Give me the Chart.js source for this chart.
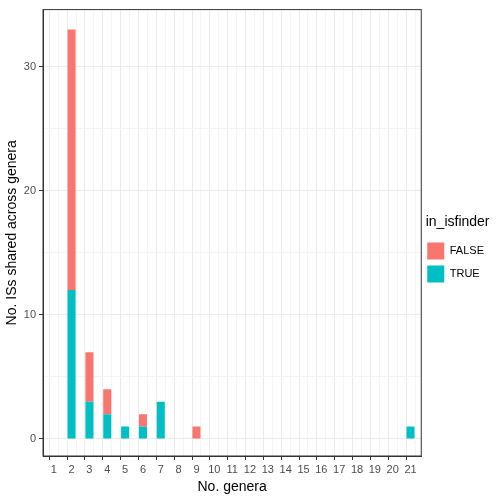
<!DOCTYPE html>
<html>
<head>
<meta charset="utf-8">
<script src="https://cdn.jsdelivr.net/npm/chart.js@4"></script>
<style>
  html, body { margin: 0; padding: 0; background: #fff; }
  #wrap { width: 500px; height: 500px; }
</style>
</head>
<body>
<div id="wrap"><canvas id="chart" width="500" height="500"></canvas></div>
<script>
// number of genera an IS is shared across
const genera = [2, 3, 4, 5, 6, 7, 9, 21];
const trueCounts  = [12, 3, 2, 1, 1, 3, 0, 1];
const falseCounts = [21, 4, 2, 0, 1, 0, 1, 0];
const seriesNames = ['TRUE', 'FALSE'];
const seriesColors = ['#00BFC4', '#F8766D'];

function toPoints(counts) {
    return genera.map((g, i) => ({ x: g, y: counts[i] }));
}

function isMajorX(c) {
    return c.tick && Number.isInteger(c.tick.value);
}
function isMajorY(c) {
    return c.tick && c.tick.value % 10 === 0;
}

const ctx = document.getElementById('chart').getContext('2d');
new Chart(ctx, {
    type: 'bar',
    data: {
        datasets: [
            { label: seriesNames[0], data: toPoints(trueCounts), backgroundColor: seriesColors[0] },
            { label: seriesNames[1], data: toPoints(falseCounts), backgroundColor: seriesColors[1] }
        ]
    },
    options: {
        responsive: false,
        animation: false,
        barPercentage: 0.9,
        categoryPercentage: 1,
        layout: { padding: { top: 8, right: 6, left: 4, bottom: 4 } },
        plugins: {
            tooltip: { enabled: false },
            legend: {
                position: 'right',
                reverse: true,
                title: { display: true, text: 'in_isfinder', color: '#000', font: { family: 'Liberation Sans', size: 14 }, padding: { top: 0, bottom: 4 } },
                labels: { boxWidth: 17, boxHeight: 17, color: '#000', padding: 6, font: { family: 'Liberation Sans', size: 11 } }
            }
        },
        scales: {
            x: {
                type: 'linear',
                stacked: true,
                min: 0.4,
                max: 21.6,
                offset: false,
                afterBuildTicks: axis => {
                    const t = [];
                    for (let v = 0.5; v <= 21.5; v += 0.5) t.push({ value: v });
                    axis.ticks = t;
                },
                ticks: {
                    autoSkip: false,
                    maxRotation: 0,
                    color: '#4d4d4d',
                    font: { family: 'Liberation Sans', size: 11 },
                    callback: v => Number.isInteger(v) ? String(v) : ''
                },
                grid: {
                    color: c => isMajorX(c) ? '#ebebeb' : '#f5f5f5',
                    tickColor: c => isMajorX(c) ? '#333' : 'rgba(0,0,0,0)',
                    tickLength: 4
                },
                border: { color: '#333' },
                title: { display: true, text: 'No. genera', color: '#000', font: { family: 'Liberation Sans', size: 14 }, padding: 0 }
            },
            y: {
                stacked: true,
                min: -1.37,
                max: 34.6,
                afterBuildTicks: axis => {
                    axis.ticks = [0, 5, 10, 15, 20, 25, 30].map(v => ({ value: v }));
                },
                ticks: {
                    color: '#4d4d4d',
                    font: { family: 'Liberation Sans', size: 11 },
                    callback: v => v % 10 === 0 ? String(v) : ''
                },
                grid: {
                    color: c => isMajorY(c) ? '#ebebeb' : '#f5f5f5',
                    tickColor: c => isMajorY(c) ? '#333' : 'rgba(0,0,0,0)',
                    tickLength: 4
                },
                border: { color: '#333' },
                title: { display: true, text: 'No. ISs shared across genera', color: '#000', font: { family: 'Liberation Sans', size: 14 }, padding: 0 }
            }
        }
    },
    plugins: [{
        id: 'frame',
        afterDraw(chart) {
            const a = chart.chartArea, c = chart.ctx;
            c.save();
            c.strokeStyle = '#333';
            c.lineWidth = 1;
            c.strokeRect(a.left, a.top, a.right - a.left, a.bottom - a.top);
            c.restore();
        }
    }]
});
</script>
</body>
</html>
